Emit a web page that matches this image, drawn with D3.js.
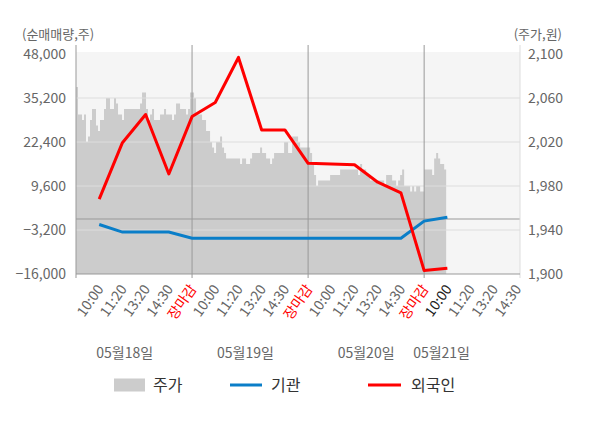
<!DOCTYPE html>
<html>
<head>
<meta charset="utf-8">
<script src="https://cdn.jsdelivr.net/npm/d3@7"></script>
<style>
  body { margin: 0; background: #fff; }
  svg { display: block; font-family: "Noto Sans CJK KR", "Noto Sans", sans-serif; }
</style>
</head>
<body>
<div id="chart"></div>
<script>
// dani i oznake vremena
const days = ["05월18일", "05월19일", "05월20일", "05월21일"];
const timeLabels = ["10:00", "11:20", "13:20", "14:30", "장마감"];
const volumeTicks = [-16000, -3200, 9600, 22400, 35200, 48000];
const priceTicks = [1900, 1940, 1980, 2020, 2060, 2100];

// 외국인 / 기관 순매매량 (10:00 ... 장마감, po danu)
const foreign = [5800, 22200, 30400, 13100, 29800, 33900, 47000, 25900, 25900, 16200, 16000, 15800, 10700, 7600, -15000, -14300];
const institution = [-1600, -3800, -3800, -3800, -5600, -5600, -5600, -5600, -5600, -5600, -5600, -5600, -5600, -5600, -600, 500];

// 주가 (minutni uzorci po danu)
const price1 = [2070, 2045, 2045, 2040, 2045, 2020, 2025, 2040, 2050, 2050,
  2035, 2030, 2040, 2040, 2050, 2060, 2060, 2050, 2050, 2060,
  2055, 2045, 2045, 2040, 2050, 2050, 2050, 2050, 2050, 2050,
  2050, 2050, 2055, 2065, 2065, 2050, 2040, 2045, 2050, 2040,
  2040, 2040, 2045, 2045, 2050, 2045, 2045, 2045, 2040, 2045,
  2055, 2055, 2050, 2050, 2050, 2045, 2050, 2065];
const price2 = [2065, 2060, 2045, 2045, 2045, 2040, 2040, 2030, 2030, 2020,
  2015, 2010, 2020, 2020, 2025, 2015, 2010, 2005, 2005, 2005,
  2005, 2005, 2005, 2005, 2000, 2005, 2005, 2000, 2000, 2005,
  2010, 2010, 2010, 2010, 2015, 2010, 2010, 2005, 2005, 2000,
  2005, 2010, 2010, 2010, 2010, 2010, 2020, 2020, 2010, 2010,
  2025, 2025, 2025, 2020, 2015, 2015, 2015, 2015];
const price3 = [2015, 2010, 2000, 1990, 1980, 1985, 1985, 1985, 1985, 1985,
  1985, 1990, 1990, 1990, 1990, 1990, 1995, 1995, 1995, 1995,
  1995, 1995, 1995, 1995, 1995, 1990, 2000, 1995, 1995, 1990,
  1990, 1985, 1985, 1985, 1985, 1985, 1985, 1985, 1980, 1990,
  1990, 1990, 1985, 1985, 1980, 1985, 1990, 1995, 1980, 1980,
  1980, 1975, 1980, 1975, 1980, 1980, 1975, 1975];
const price4 = [1995, 1995, 1995, 1995, 1990, 2005, 2010, 2005, 2000, 2000, 1995];

const width = 600;
const height = 428;
const margin = { top: 54, right: 80, bottom: 154, left: 76 };
const perDay = 5; // broj intervala po danu
const step = 5 / 58; // sirina jednog uzorka cijene

const svg = d3.select("#chart").append("svg")
  .attr("width", width)
  .attr("height", height);

const x = d3.scaleLinear()
  .domain([0, 19.13])
  .range([margin.left, width - margin.right]);

const yVol = d3.scaleLinear()
  .domain([-16000, 48000])
  .range([height - margin.bottom, margin.top]);

const yPrice = d3.scaleLinear()
  .domain([1900, 2100])
  .range([height - margin.bottom, margin.top]);

const bottom = height - margin.bottom;
const right = width - margin.right;

// pozadina
svg.append("rect")
  .attr("x", margin.left)
  .attr("y", margin.top - 2)
  .attr("width", right - margin.left)
  .attr("height", bottom - margin.top + 2)
  .attr("fill", "#f5f5f5");

// cijena kao povrsina
const priceData = [];
[price1, price2, price3, price4].forEach((arr, d) => {
  arr.forEach((p, j) => priceData.push({ t: d * perDay + j * step, p }));
});
priceData.push({ t: 3 * perDay + price4.length * step, p: price4[price4.length - 1] });

svg.append("path")
  .datum(priceData)
  .attr("fill", "#cccccc")
  .attr("d", d3.area()
    .curve(d3.curveStepAfter)
    .x((d) => x(d.t))
    .y0(bottom)
    .y1((d) => yPrice(d.p)));

// mreza
svg.append("g")
  .selectAll("line")
  .data(volumeTicks.slice(1, -1))
  .enter()
  .append("line")
  .attr("x1", margin.left)
  .attr("x2", right)
  .attr("y1", (d) => yVol(d))
  .attr("y2", (d) => yVol(d))
  .attr("stroke", "#dddddd");

// nula
svg.append("line")
  .attr("x1", margin.left)
  .attr("x2", right)
  .attr("y1", yVol(0))
  .attr("y2", yVol(0))
  .attr("stroke", "#999");

// granice dana
svg.append("g")
  .selectAll("line")
  .data([0, 1, 2, 3])
  .enter()
  .append("line")
  .attr("x1", (d) => x(d * perDay))
  .attr("x2", (d) => x(d * perDay))
  .attr("y1", margin.top - 9)
  .attr("y2", bottom + 4)
  .attr("stroke", "#999");

// desni rub
svg.append("line")
  .attr("x1", right).attr("x2", right)
  .attr("y1", margin.top - 9).attr("y2", bottom + 4)
  .attr("stroke", "#dddddd");

svg.append("line")
  .attr("x1", margin.left).attr("x2", right)
  .attr("y1", bottom).attr("y2", bottom)
  .attr("stroke", "#999");

// linije
const idx = d3.range(1, foreign.length + 1);
const line = d3.line().x((d) => x(d[0])).y((d) => yVol(d[1]));

svg.append("path")
  .datum(idx.map((k, i) => [k, institution[i]]))
  .attr("fill", "none")
  .attr("stroke", "#0a7ec8")
  .attr("stroke-width", 3)
  .attr("d", line);

svg.append("path")
  .datum(idx.map((k, i) => [k, foreign[i]]))
  .attr("fill", "none")
  .attr("stroke", "#ff0000")
  .attr("stroke-width", 3)
  .attr("stroke-linejoin", "round")
  .attr("d", line);

// os y lijevo
svg.append("g")
  .selectAll("text")
  .data(volumeTicks)
  .enter()
  .append("text")
  .attr("x", margin.left - 10)
  .attr("y", (d) => yVol(d))
  .attr("dy", "0.35em")
  .attr("text-anchor", "end")
  .attr("fill", "#666")
  .style("font-size", "14px")
  .text((d) => d3.format(",")(d));

// os y desno
svg.append("g")
  .selectAll("text")
  .data(priceTicks)
  .enter()
  .append("text")
  .attr("x", right + 8)
  .attr("y", (d) => yPrice(d))
  .attr("dy", "0.35em")
  .attr("fill", "#666")
  .style("font-size", "14px")
  .text((d) => d3.format(",")(d));

svg.append("text")
  .attr("x", 22)
  .attr("y", 34)
  .attr("dy", "0.35em")
  .attr("fill", "#666")
  .style("font-size", "13px")
  .text("(순매매량,주)");

svg.append("text")
  .attr("x", 562)
  .attr("y", 34)
  .attr("dy", "0.35em")
  .attr("text-anchor", "end")
  .attr("fill", "#666")
  .style("font-size", "13px")
  .text("(주가,원)");

// os x
const xTicks = d3.range(1, 20);
svg.append("g")
  .selectAll("text")
  .data(xTicks)
  .enter()
  .append("text")
  .attr("transform", (k) => `translate(${x(k) + 5},289) rotate(-55)`)
  .attr("text-anchor", "end")
  .attr("fill", (k) => (k % 5 === 0 ? "#ff0000" : k === 16 ? "#222" : "#666"))
  .style("font-size", "14px")
  .text((k) => timeLabels[(k - 1) % 5]);

const dayPos = [2.1, 7.3, 12.5, 15.75];
svg.append("g")
  .selectAll("text")
  .data(days)
  .enter()
  .append("text")
  .attr("x", (d, i) => x(dayPos[i]))
  .attr("y", 353)
  .attr("dy", "0.35em")
  .attr("text-anchor", "middle")
  .attr("fill", "#666")
  .style("font-size", "14px")
  .text((d) => d);

// legenda
const legend = svg.append("g").attr("transform", "translate(0,385)");
legend.append("rect")
  .attr("x", 114).attr("y", -6.5)
  .attr("width", 31).attr("height", 13)
  .attr("fill", "#cccccc");
legend.append("line")
  .attr("x1", 230).attr("x2", 262)
  .attr("stroke", "#0a7ec8").attr("stroke-width", 3);
legend.append("line")
  .attr("x1", 368).attr("x2", 401)
  .attr("stroke", "#ff0000").attr("stroke-width", 3);
[["주가", 153], ["기관", 271], ["외국인", 411]].forEach(([t, lx]) => {
  legend.append("text")
    .attr("x", lx)
    .attr("dy", "0.35em")
    .attr("fill", "#333")
    .style("font-size", "16px")
    .text(t);
});
</script>
</body>
</html>
